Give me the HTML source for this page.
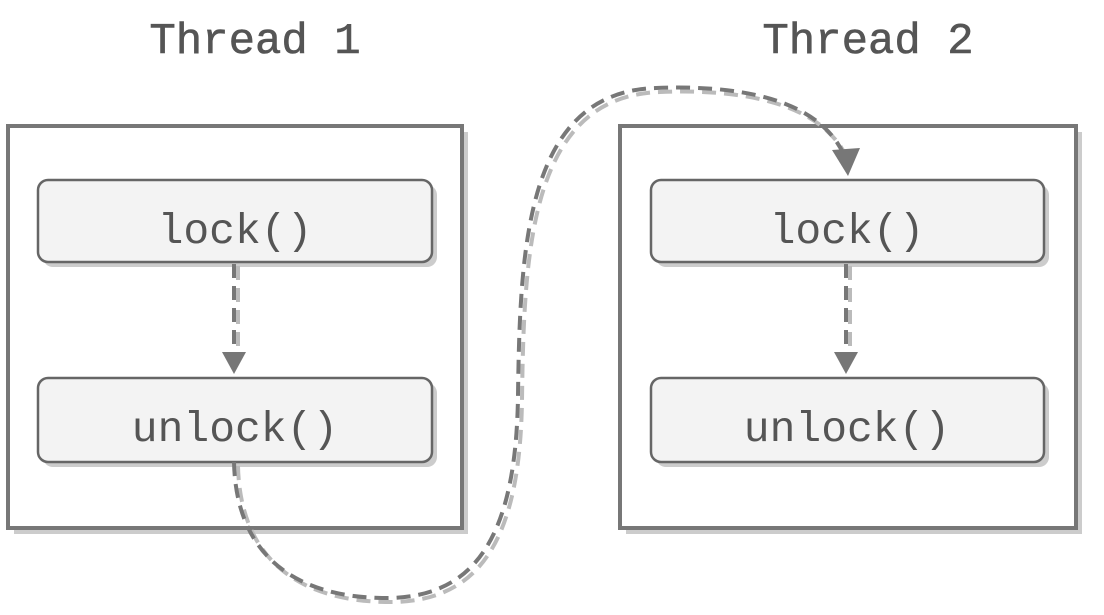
<!DOCTYPE html>
<html><head><style>body{margin:0;background:#fff}</style></head><body>
<svg width="1104" height="610" viewBox="0 0 1104 610" xmlns="http://www.w3.org/2000/svg" font-family="Liberation Mono, monospace">
<text x="255" y="53" font-size="44" fill="#555" stroke="#555" stroke-width="0.6" text-anchor="middle">Thread 1</text>
<text x="868" y="53" font-size="44" fill="#555" stroke="#555" stroke-width="0.6" text-anchor="middle">Thread 2</text>
<g>
<rect x="14" y="132" width="454" height="402" fill="#ccc"/>
<rect x="8" y="126" width="454" height="402" fill="#fff" stroke="#777" stroke-width="4"/>
<rect x="626" y="132" width="456" height="402" fill="#ccc"/>
<rect x="620" y="126" width="456" height="402" fill="#fff" stroke="#777" stroke-width="4"/>
</g>
<g stroke="#666" stroke-width="2.5">
<rect x="43" y="185" width="394" height="82" rx="10" fill="#ccc" stroke="none"/>
<rect x="38" y="180" width="394" height="82" rx="10" fill="#f3f3f3"/>
<rect x="43" y="383" width="394" height="84" rx="10" fill="#ccc" stroke="none"/>
<rect x="38" y="378" width="394" height="84" rx="10" fill="#f3f3f3"/>
<rect x="656" y="185" width="393" height="82" rx="10" fill="#ccc" stroke="none"/>
<rect x="651" y="180" width="393" height="82" rx="10" fill="#f3f3f3"/>
<rect x="656" y="383" width="393" height="84" rx="10" fill="#ccc" stroke="none"/>
<rect x="651" y="378" width="393" height="84" rx="10" fill="#f3f3f3"/>
</g>
<g font-size="43" fill="#555" text-anchor="middle">
<text x="235" y="243">lock()</text>
<text x="235" y="441">unlock()</text>
<text x="847" y="243">lock()</text>
<text x="847" y="441">unlock()</text>
</g>
<g fill="none" stroke-width="4" stroke-dasharray="14,8">
<path d="M238,266 L238,360" stroke="#bbb"/>
<path d="M850,266 L850,360" stroke="#bbb"/>
<path d="M238,466 C240,560 300,602 390,602 C480,602 520,540 522,400 C524,250 530,96 660,92 C760,88 830,110 850,165" stroke="#bbb"/>
<path d="M234,264 L234,360" stroke="#777"/>
<path d="M846,264 L846,360" stroke="#777"/>
<path d="M234,462 C236,556 296,598 386,598 C476,598 516,536 518,396 C520,246 526,92 656,88 C756,84 826,106 846,160" stroke="#777"/>
</g>
<g fill="#777">
<path d="M222,352 L246,352 L234,374 Z"/>
<path d="M834,352 L858,352 L846,374 Z"/>
<path d="M832,150 L860,148 L848,176 Z"/>
</g>
</svg>
</body></html>
